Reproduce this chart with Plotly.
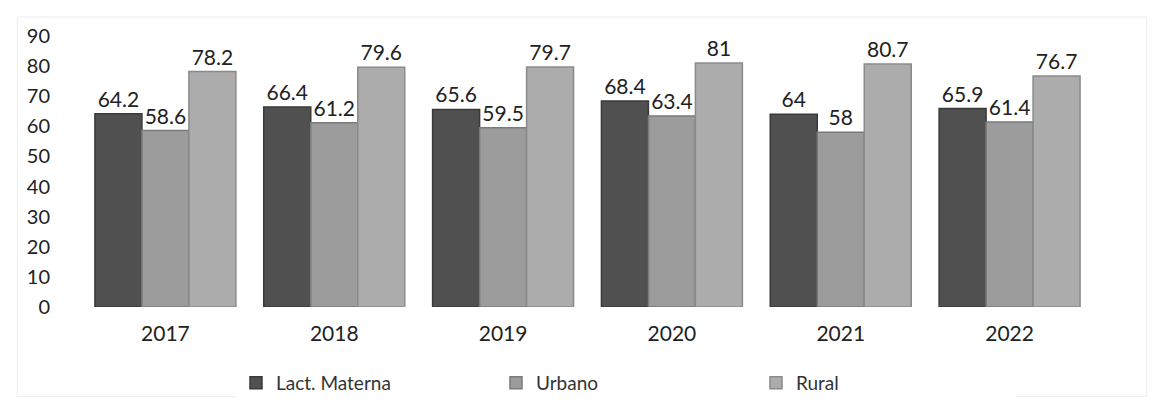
import plotly.graph_objects as go

years = ["2017", "2018", "2019", "2020", "2021", "2022"]
lact = [64.2, 66.4, 65.6, 68.4, 64, 65.9]
urbano = [58.6, 61.2, 59.5, 63.4, 58, 61.4]
rural = [78.2, 79.6, 79.7, 81, 80.7, 76.7]

series = [
    ("Lact. Materna", lact, "#505050", "#3a3a3a"),
    ("Urbano", urbano, "#9c9c9c", "#7a7a7a"),
    ("Rural", rural, "#acacac", "#8a8a8a"),
]

fig = go.Figure()
for name, vals, col, edge in series:
    fig.add_trace(go.Bar(
        x=years, y=vals, name=name,
        marker=dict(color=col, line=dict(color=edge, width=1.5)),
        text=[f"{v:g}" for v in vals], textposition="outside",
        textfont=dict(size=21, color="#222222"),
        cliponaxis=False,
    ))

fig.update_layout(
    width=1158, height=403,
    margin=dict(l=73, r=72, t=28, b=104, autoexpand=False),
    paper_bgcolor="white", plot_bgcolor="white",
    barmode="group", bargap=0.165, bargroupgap=0,
    font=dict(family="Lato, Open Sans, sans-serif", size=18, color="#222222"),
    showlegend=True,
    legend=dict(orientation="h", x=0.153, y=-0.28, xanchor="left", yanchor="middle",
                font=dict(size=19, color="#333333"), itemwidth=30,
                traceorder="normal", entrywidthmode="pixels", entrywidth=215),
    xaxis=dict(showgrid=False, showline=False, ticks="", tickfont=dict(size=21),
               zeroline=False, ticklabelstandoff=12),
    yaxis=dict(range=[0, 90], dtick=10, showgrid=False, showline=False, zeroline=False,
               ticks="", ticklabelstandoff=30,
               tickfont=dict(size=20)),
)
fig.add_shape(type="rect", xref="paper", yref="paper", x0=-0.063, x1=1.052, y0=-0.33, y1=1.07,
              line=dict(color="#eeeeee", width=1))
fig.write_html("out.html")
